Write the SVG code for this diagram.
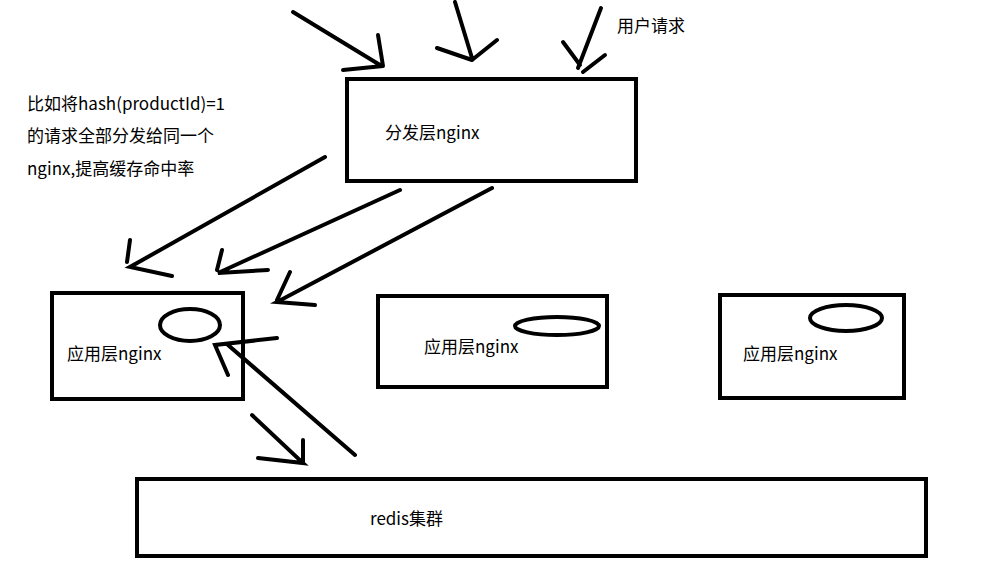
<svg xmlns="http://www.w3.org/2000/svg" width="1004" height="569" viewBox="0 0 1004 569">
<style>
.b{fill:none;stroke:#000;stroke-width:4}
.s{fill:none;stroke:#000;stroke-width:4;stroke-linecap:round}
text{font-family:"Microsoft YaHei","Noto Sans CJK SC",sans-serif;font-size:17px;fill:#000}
</style>
<rect width="1004" height="569" fill="#fff"/>
<g id="dispatch"><rect class="b" x="347" y="79" width="289" height="102"/><text x="385" y="139">分发层nginx</text></g>
<g id="app1"><rect class="b" x="52" y="293" width="191" height="106"/><ellipse class="b" cx="190" cy="325" rx="30" ry="16"/><text x="67" y="360">应用层nginx</text></g>
<g id="app2"><rect class="b" x="378" y="296" width="229" height="91"/><ellipse class="b" cx="557" cy="326" rx="42" ry="9"/><text x="424" y="353">应用层nginx</text></g>
<g id="app3"><rect class="b" x="720" y="295" width="184" height="103"/><ellipse class="b" cx="846" cy="318" rx="36" ry="13"/><text x="743" y="360">应用层nginx</text></g>
<g id="redis"><rect class="b" x="137" y="479" width="789" height="77"/><text x="370" y="525">redis集群</text></g>
<g id="labels"><text x="617" y="32">用户请求</text><text x="27" y="110">比如将hash(productId)=1</text><text x="27" y="142">的请求全部分发给同一个</text><text x="27" y="175">nginx,提高缓存命中率</text></g>
<g id="connectors">
<path class="s" d="M293 12L380 65M343 70L383 66M378 35L383 66"/>
<path class="s" d="M455 2L472 58M437 48L472 60M497 40L472 60"/>
<path class="s" d="M601 8L578 68M563 42L580 65M605 55L583 72"/>
<path class="s" d="M325 157L130 267L172 276M130 240L127 262"/>
<path class="s" d="M400 190L218 273L268 270M222 250L217 270"/>
<path class="s" d="M492 188L277 302L315 305M290 272L277 300"/>
<path class="s" d="M277 338L215 345L228 375M228 345L355 455"/>
<path class="s" d="M252 415L303 463L258 458M303 440L303 463"/>
</g>
</svg>
